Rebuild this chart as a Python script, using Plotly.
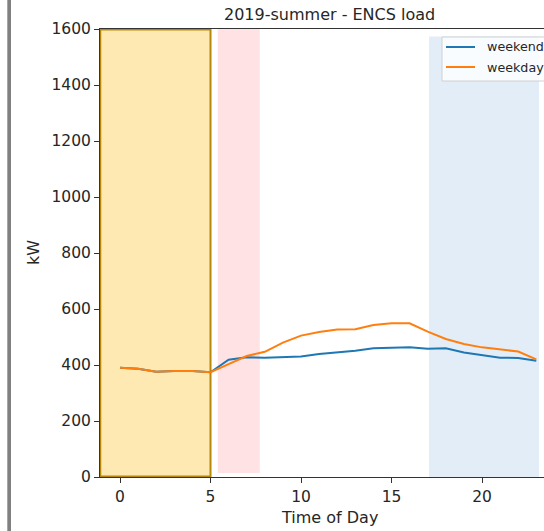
import plotly.graph_objects as go

# Hourly load profile, 2019 summer
hours = list(range(24))
weekend_kw = [390, 387, 376, 379, 379, 374, 419, 428, 426, 427, 430, 439,
              445, 451, 460, 462, 463, 458, 460, 445, 436, 426, 425, 415]
weekday_kw = [390, 387, 376, 379, 379, 374, 403, 432, 447, 480, 505, 518,
              527, 528, 543, 549, 549, 519, 493, 475, 463, 456, 448, 420]
series_names = ["weekend", "weekday"]
series_colors = ["#1f77b4", "#ff7f0e"]
x_ticks = [0, 5, 10, 15, 20]
y_ticks = [0, 200, 400, 600, 800, 1000, 1200, 1400, 1600]

W, H = 544, 531
L, R, T, B = 100, 544, 29, 477          # plot area in pixels
FONT = "DejaVu Sans"
TXT = "#262626"


def px(x):
    return (x - L) / (R - L)


def py(y):
    return (B - y) / (B - T)


fig = go.Figure()
for name, vals, col in zip(series_names, [weekend_kw, weekday_kw], series_colors):
    fig.add_trace(go.Scatter(x=hours, y=vals, mode="lines", name=name,
                             line=dict(color=col, width=2), showlegend=False))

shapes = [
    # night period
    dict(type="rect", xref="x", yref="y", x0=-1.09, x1=5, y0=2, y1=1598,
         fillcolor="#FEE9B2", line=dict(color="#B8860B", width=2), layer="below"),
    # morning ramp
    dict(type="rect", xref="x", yref="y", x0=5.4, x1=7.72, y0=14, y1=1600,
         fillcolor="#FFE2E3", line=dict(width=0), layer="below"),
    # evening period
    dict(type="rect", xref="x", yref="y", x0=17.07, x1=23.15, y0=0, y1=1573,
         fillcolor="#E2EDF7", line=dict(width=0), layer="below"),
    # frame bar on the left
    dict(type="rect", xref="paper", yref="paper", x0=px(7.3), x1=px(11),
         y0=py(531), y1=py(0), fillcolor="#808080", line=dict(width=0)),
    # legend box
    dict(type="rect", xref="paper", yref="paper", x0=px(442), x1=px(580),
         y0=py(81), y1=py(37), fillcolor="rgba(255,255,255,0.8)",
         line=dict(color="#d0d0d0", width=1)),
]
for i, col in enumerate(series_colors):
    yy = 47 + 20 * i
    shapes.append(dict(type="line", xref="paper", yref="paper",
                       x0=px(446), x1=px(475), y0=py(yy), y1=py(yy),
                       line=dict(color=col, width=2)))

annotations = [
    dict(text="2019-summer - ENCS load", xref="paper", yref="paper",
         x=px(329), y=py(14), xanchor="center", yanchor="middle",
         showarrow=False, font=dict(family=FONT, size=16, color=TXT)),
    dict(text="kW", xref="paper", yref="paper", x=px(33), y=py(253),
         xanchor="center", yanchor="middle", textangle=-90,
         showarrow=False, font=dict(family=FONT, size=16, color=TXT)),
    dict(text="Time of Day", xref="paper", yref="paper", x=px(329), y=py(517),
         xanchor="center", yanchor="middle",
         showarrow=False, font=dict(family=FONT, size=16, color=TXT)),
]
for i, name in enumerate(series_names):
    annotations.append(dict(text=name, xref="paper", yref="paper",
                            x=px(485), y=py(47 + 20 * i), xanchor="left",
                            yanchor="middle", showarrow=False,
                            font=dict(family=FONT, size=12.7, color=TXT)))

fig.update_layout(
    width=W, height=H,
    margin=dict(l=L, r=W - R, t=T, b=H - B, pad=0),
    paper_bgcolor="white", plot_bgcolor="white",
    shapes=shapes, annotations=annotations,
    font=dict(family=FONT, size=15.5, color=TXT),
)
fig.update_xaxes(range=[(L - 120) / 18.1, (R - 120) / 18.1],
                 tickvals=x_ticks, ticks="outside", ticklen=5, tickwidth=1,
                 tickcolor="#333", showline=True, linecolor="#333", linewidth=1,
                 mirror=True, showgrid=False, zeroline=False,
                 tickfont=dict(family=FONT, size=15.5, color=TXT))
fig.update_yaxes(range=[0, 1600], tickvals=y_ticks, ticks="outside",
                 ticklen=5, tickwidth=1, tickcolor="#333", showline=True,
                 linecolor="#333", linewidth=1, showgrid=False, zeroline=False,
                 tickfont=dict(family=FONT, size=15.5, color=TXT))

fig.write_html("out.html")
